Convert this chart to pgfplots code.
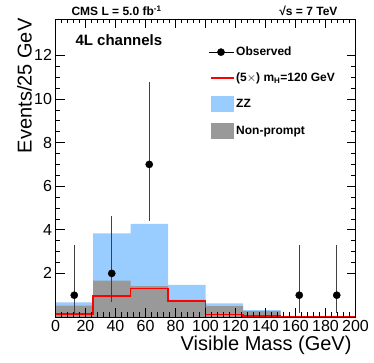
\documentclass[border=0pt]{standalone}
\usepackage{pgfplots}
\pgfplotsset{compat=1.18}
\usepackage{fontspec}
\setmainfont{Liberation Sans}
\definecolor{zzblue}{RGB}{153,204,255}
\definecolor{npgray}{RGB}{153,153,153}
\pgfplotsset{
  obsleg/.style={legend image code/.code={
    \draw[black, line width=0.8pt] (0pt,0pt) -- (25pt,0pt);
    \fill[black] (12.5pt,0pt) circle (3.6pt);}},
  redleg/.style={legend image code/.code={
    \draw[red, line width=1.4pt] (2pt,0pt) -- (25pt,0pt);}},
  zzleg/.style={legend image code/.code={
    \fill[zzblue] (3pt,-7.5pt) rectangle (25pt,7.5pt);}},
  npleg/.style={legend image code/.code={
    \fill[npgray] (3pt,-7.5pt) rectangle (25pt,7.5pt);}},
}

\begin{document}
\begin{tikzpicture}
\path[use as bounding box] (0,0) rectangle (374pt,363pt);
\begin{axis}[
  at={(55.5pt,46pt)}, anchor=south west,
  scale only axis, width=300pt, height=298pt,
  xmin=0, xmax=200, ymin=0, ymax=13.67,
  xtick distance=20, ytick={2,4,...,12},
  minor x tick num=4, minor y tick num=3,
  tick align=inside,
  major tick length=9pt, minor tick length=4.5pt,
  axis on top,
  axis line style={line width=0.8pt},
  every tick/.style={black, line width=0.6pt},
  tick label style={font=\fontsize{16}{18}\selectfont},
  /pgf/number format/assume math mode=true,
  legend style={at={(rel axis cs:0.498,0.92)}, anchor=north west,
    draw=none, fill=none, font=\bfseries\fontsize{12}{14}\selectfont,
    row sep=11.5pt, /tikz/every even column/.append style={column sep=6pt}},
  legend cell align=left,
]
% ZZ + non-prompt total
\addplot[const plot, fill=zzblue, draw=none, forget plot] coordinates {
  (0,0.67) (25,3.84) (50,4.27) (75,1.47) (100,0.63) (125,0.32) (150,0.02) (175,0.02) (200,0.02)
} \closedcycle;
% non-prompt
\addplot[const plot, fill=npgray, draw=none, forget plot] coordinates {
  (0,0.52) (25,1.67) (50,1.42) (75,0.78) (100,0.50) (125,0.27) (150,0.01) (175,0.01) (200,0.01)
} \closedcycle;
% 5x signal mH=120
\addplot[const plot, red, line width=1.4pt, forget plot] coordinates {
  (0,0.14) (25,0.96) (50,1.32) (75,0.73) (100,0.12) (125,0.05) (150,0.03) (175,0.03) (200,0.03)
};
% observed
\addplot[only marks, mark=*, mark size=3.6pt, black, forget plot,
  error bars/.cd, y dir=both, y explicit, error mark=none,
  error bar style={line width=0.7pt, black!75}]
  coordinates {
  (12.5,1)  += (0,2.30) -= (0,0.83)
  (37.5,2)  += (0,2.64) -= (0,1.29)
  (62.5,7)  += (0,3.77) -= (0,2.58)
  (162.5,1) += (0,2.30) -= (0,0.83)
  (187.5,1) += (0,2.30) -= (0,0.83)
};
\addlegendimage{black, obsleg}
\addlegendentry{Observed}
\addlegendimage{red, line width=1.4pt, redleg}
\addlegendentry{(5$\times$) m\textsubscript{H}=120 GeV}
\addlegendimage{zzblue, zzleg}
\addlegendentry{ZZ}
\addlegendimage{npgray, npleg}
\addlegendentry{Non-prompt}
\node[anchor=base west, font=\bfseries\fontsize{15}{18}\selectfont]
  at (rel axis cs:0.055,0.91) {4L channels};
\end{axis}
\node[anchor=base west, font=\bfseries\fontsize{12}{14}\selectfont]
  at (68pt,347.5pt) {CMS L = 5.0 fb\textsuperscript{-1}};
\node[anchor=base east, font=\bfseries\fontsize{12}{14}\selectfont]
  at (341pt,347.5pt) {√s = 7 TeV};
\node[anchor=base east, font=\fontsize{20}{24}\selectfont]
  at (355pt,12pt) {Visible Mass (GeV)};
\node[anchor=base east, rotate=90, font=\fontsize{20}{24}\selectfont]
  at (31.5pt,348pt) {Events/25 GeV};
\end{tikzpicture}
\end{document}
